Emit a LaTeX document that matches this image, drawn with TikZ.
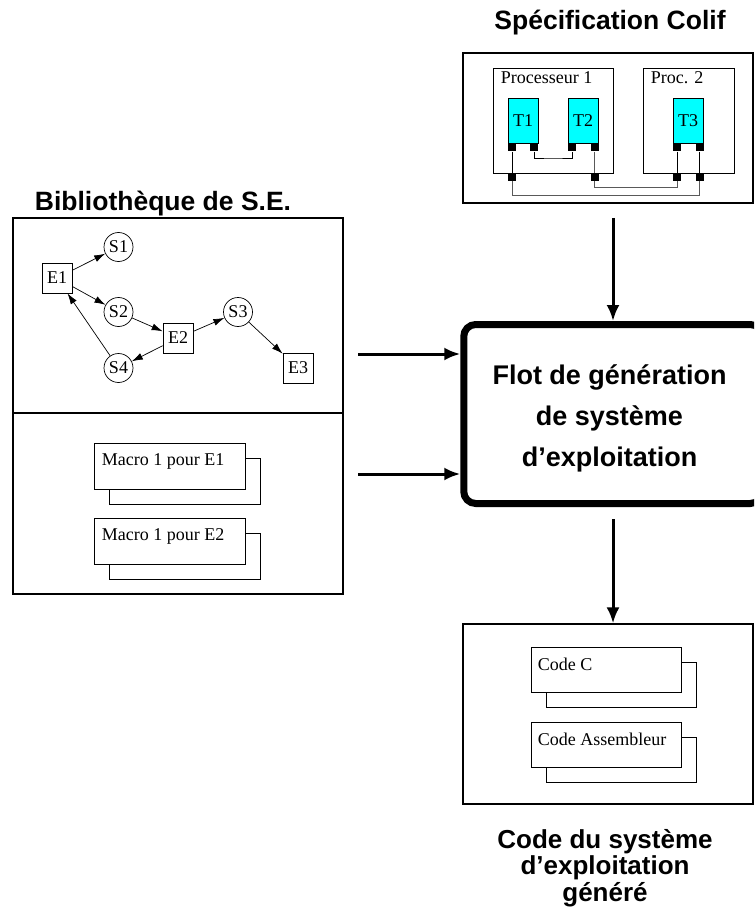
\documentclass[tikz,border=0pt]{standalone}
\usepackage{fontspec}
\setmainfont{Liberation Serif}
\newfontfamily\hvfont{Liberation Sans}
\usetikzlibrary{arrows.meta}
\definecolor{taskcyan}{RGB}{0,255,255}
\begin{document}
\begin{tikzpicture}[x=1pt,y=-1pt,
  title/.style={font=\hvfont\bfseries\fontsize{26.5}{26.5}\selectfont, inner sep=0pt, anchor=base},
  frame/.style={draw, line width=1.2pt, fill=white, inner sep=0pt},
  txt/.style={font=\fontsize{18}{21}\selectfont},
  state/.style={draw, circle, minimum size=29pt, inner sep=0pt, txt, line width=0.7pt},
  event/.style={draw, rectangle, minimum size=30pt, inner sep=0pt, txt, line width=0.7pt},
  garrow/.style={-{Latex[length=11pt,width=7pt]}, line width=0.7pt},
  bigarrow/.style={-{Latex[length=16pt,width=13pt]}, line width=3pt},
  task/.style={draw, fill=taskcyan, minimum width=30pt, minimum height=45pt, inner sep=0pt, txt, line width=0.7pt},
  port/.style={fill=black, minimum size=8pt, inner sep=0pt},
  proc/.style={draw, line width=0.8pt, inner sep=0pt},
  wire/.style={line width=0.8pt},
  graywire/.style={line width=0.8pt, draw=black!65},
  docbox/.style={draw, fill=white, line width=0.8pt, minimum width=151pt, minimum height=46pt, inner sep=0pt},
  doclabel/.style={anchor=north west, inner sep=0pt, txt, xshift=8pt, yshift=-11pt},
]
\clip (0,0) rectangle (754,909);
\fill[white] (0,0) rectangle (754,909);

% ---------- Specification Colif ----------
\node[title] (colifT) at (610,30) {Spécification Colif};
\node[frame, minimum width=290pt, minimum height=150pt] (colif) at (608,128) {};
\node[proc, minimum width=120pt, minimum height=105pt] (proc1) at (553,120.5) {};
\node[proc, minimum width=91pt, minimum height=105pt] (proc2) at (688.5,120.5) {};
\node[anchor=north west, inner sep=0pt, txt, xshift=8pt, yshift=-4pt] (proc1L) at (proc1.north west) {Processeur 1};
\node[anchor=north west, inner sep=0pt, txt, xshift=8pt, yshift=-4pt] (proc2L) at (proc2.north west) {Proc. 2};
\node[task] (t1) at (523,120.5) {T1};
\node[task] (t2) at (583,120.5) {T2};
\node[task] (t3) at (688,120.5) {T3};
\node[port] (p1a) at (512,147.5) {};
\node[port] (p1b) at (534,147.5) {};
\node[port] (p2a) at (572,147.5) {};
\node[port] (p2b) at (594.5,147.5) {};
\node[port] (p3a) at (677,147.5) {};
\node[port] (p3b) at (699.5,147.5) {};
\node[port] (q1) at (512,177) {};
\node[port] (q2) at (594.5,177) {};
\node[port] (q3a) at (677,177) {};
\node[port] (q3b) at (699.5,177) {};
\coordinate (w1) at (553,158);
\coordinate (w2) at (636,187.5);
\coordinate (w3) at (606,195.5);
\draw[wire] (p1b.south) |- (w1) -| (p2a.south);
\draw[wire] (p1a.south) -- (q1.north);
\draw[graywire] (p2b.south) -- (q2.north);
\draw[wire] (p3a.south) -- (q3a.north);
\draw[wire] (p3b.south) -- (q3b.north);
\draw[graywire] (q2.south) |- (w2) -| (q3a.south);
\draw[graywire] (q1.south) |- (w3) -| (q3b.south);

% ---------- Bibliotheque ----------
\node[title] (libT) at (163,211) {Bibliothèque de S.E.};
\node[frame, minimum width=330pt, minimum height=376pt] (lib) at (178,406) {};
\coordinate (div) at (178,413);
\draw[line width=1.2pt] (lib.west |- div) -- (lib.east |- div);

\node[event] (e1) at (57,278) {E1};
\node[state] (s1) at (118.5,247) {S1};
\node[state] (s2) at (118.5,312) {S2};
\node[event] (e2) at (178,338) {E2};
\node[state] (s3) at (238,312) {S3};
\node[state] (s4) at (118.5,368) {S4};
\node[event] (e3) at (298,368) {E3};
\draw[garrow] (e1) -- (s1);
\draw[garrow] (e1) -- (s2);
\draw[garrow] (s2) -- (e2);
\draw[garrow] (e2) -- (s3);
\draw[garrow] (s3) -- (e3);
\draw[garrow] (e2) -- (s4);
\draw[garrow] (s4) -- (e1);

\node[docbox] (m1s) at (184.5,481.5) {};
\node[docbox, label={[doclabel]north west:Macro 1 pour E1}] (m1) at (169.5,466) {};
\node[docbox] (m2s) at (184.5,556.5) {};
\node[docbox, label={[doclabel]north west:Macro 1 pour E2}] (m2) at (169.5,541) {};

% ---------- Flot ----------
\node[draw, line width=7pt, rounded corners=12pt, minimum width=298.5pt, minimum height=179pt, inner sep=0pt] (flow) at (613,414) {};
\node[anchor=north, align=center, inner sep=0pt, font=\hvfont\bfseries\fontsize{27}{41}\selectfont] (flowT) at (609.5,364.5) {Flot de génération\\de système\\d’exploitation};

\coordinate (c1) at (613,218);
\draw[bigarrow] (c1) -- (flow.north);
\coordinate (l1) at (358,354);
\draw[bigarrow] (l1) -- (l1 -| flow.west);
\coordinate (l2) at (358,474);
\draw[bigarrow] (l2) -- (l2 -| flow.west);

% ---------- Output ----------
\node[frame, minimum width=290pt, minimum height=180pt] (out) at (608,714) {};
\coordinate (d1) at (613,519);
\draw[bigarrow] (d1) -- (d1 |- out.north);

\node[docbox, minimum width=150pt, minimum height=45pt] (ccs) at (621,684.5) {};
\node[docbox, minimum width=150pt, minimum height=45pt, label={[doclabel, xshift=-1pt]north west:Code C}] (cc) at (606,669.5) {};
\node[docbox, minimum width=150pt, minimum height=45pt] (cas) at (621,759.5) {};
\node[docbox, minimum width=150pt, minimum height=45pt, label={[doclabel, xshift=-1pt]north west:Code Assembleur}] (ca) at (606,744.5) {};

\node[anchor=north, align=center, inner sep=0pt, font=\hvfont\bfseries\fontsize{26}{26.5}\selectfont] (outT) at (605,829) {Code du système\\d’exploitation\\généré};
\end{tikzpicture}
\end{document}
